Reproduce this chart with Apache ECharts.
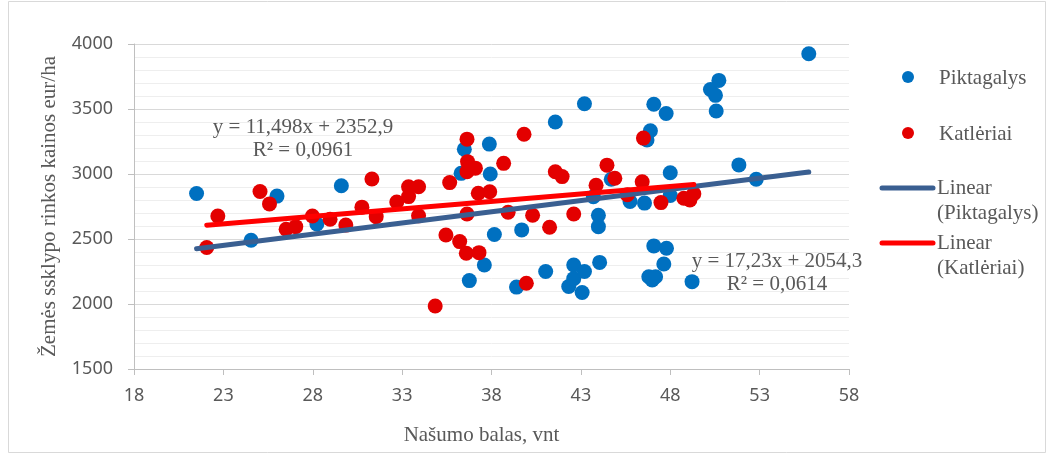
<!DOCTYPE html>
<html>
<head>
<meta charset="utf-8">
<script src="https://cdn.jsdelivr.net/npm/echarts@6/dist/echarts.min.js"></script>
<style>html,body{margin:0;padding:0;background:#fff;}#c{width:1054px;height:456px;}</style>
</head>
<body>
<div id="c"></div>
<script>
// ---- data ----
const seriesNames = ['Piktagalys', 'Katlėriai'];
const trendNames = ['Linear\n(Piktagalys)', 'Linear\n(Katlėriai)'];
const piktagalys = [
  [21.5,2850],[24.55,2490],[26.0,2830],[28.23,2615],[29.6,2910],
  [36.3,3005],[36.48,3190],[36.76,2180],[37.6,2300],[37.88,3230],[37.93,3000],[38.16,2535],
  [39.4,2130],[39.69,2570],[41.03,2250],[41.57,3400],[42.32,2135],[42.6,2300],[42.6,2195],
  [43.07,2088],[43.2,2250],[43.2,3540],[43.7,2825],[43.98,2682],[43.98,2595],[44.05,2320],
  [44.7,2960],[45.75,2788],[46.56,2776],[46.7,3262],[46.89,3333],[47.08,3537],[46.8,2210],
  [46.99,2185],[47.18,2210],[47.08,2447],[47.64,2308],[47.79,2429],[47.77,3465],[48.0,3010],
  [48.0,2835],[49.22,2172],[50.25,3650],[50.53,3605],[50.57,3485],[50.72,3720],[51.84,3070],
  [52.81,2960],[55.75,3925]
];
const katleriai = [
  [22.07,2435],[22.69,2677],[25.05,2865],[25.58,2770],[26.51,2575],[27.05,2595],[27.98,2677],
  [28.97,2652],[29.85,2607],[30.75,2745],[31.31,2962],[31.55,2672],[32.7,2785],[33.36,2902],
  [33.36,2826],[33.92,2902],[33.92,2678],[34.85,1985],[35.45,2531],[35.66,2934],[36.22,2480],
  [36.59,2390],[36.63,3268],[36.66,3095],[36.63,3018],[36.63,2692],[37.1,3045],[37.26,2852],
  [37.3,2395],[37.9,2864],[38.68,3082],[38.93,2706],[39.82,3306],[39.95,2160],[40.3,2683],
  [41.25,2590],[41.57,3017],[41.95,2980],[42.6,2692],[43.85,2914],[44.46,3068],[44.9,2967],
  [45.6,2840],[46.43,2940],[46.5,3276],[47.48,2780],[48.76,2813],[49.1,2800],[49.32,2848]
];
// trend line coefficients as printed on the chart
const trendPikt = {slope: 17.23, intercept: 2054.3, eq: 'y = 17,23x + 2054,3', r2: 'R² = 0,0614'};
const trendKatl = {slope: 11.498, intercept: 2352.9, eq: 'y = 11,498x + 2352,9', r2: 'R² = 0,0961'};
const xTicks = {min: 18, max: 58, interval: 5};
const yTicks = {min: 1500, max: 4000, interval: 500};

// ---- build ----
function trendData(pts, t) {
  const xs = pts.map(p => p[0]);
  const x0 = Math.min(...xs), x1 = Math.max(...xs);
  return [[x0, t.slope * x0 + t.intercept], [x1, t.slope * x1 + t.intercept]];
}
const BLUE = '#0070C0', RED = '#E30000', TBLUE = '#3A5F91', TRED = '#FF0000';
const TXT = '#595959';
const SERIF = '"Liberation Serif", "Times New Roman", serif';
const SANS = '"Noto Sans", "Open Sans", sans-serif';

const chart = echarts.init(document.getElementById('c'), null, {renderer: 'canvas'});
const option = {
  animation: false,
  backgroundColor: '#fff',
  grid: {left: 134, right: 205, top: 44, bottom: 87},
  xAxis: {
    type: 'value', min: xTicks.min, max: xTicks.max, interval: xTicks.interval,
    axisLine: {show: true, onZero: false, lineStyle: {color: '#bfbfbf', width: 1}},
    axisTick: {show: true, length: 6, lineStyle: {color: '#bfbfbf'}},
    axisLabel: {color: TXT, fontFamily: SANS, fontSize: 18, margin: 18, formatter: v => String(v)},
    splitLine: {show: false},
    name: 'Našumo balas, vnt', nameLocation: 'middle', nameGap: 56,
    nameTextStyle: {fontFamily: SERIF, fontSize: 21, color: TXT, padding: [0, 20, 0, 0]}
  },
  yAxis: {
    type: 'value', min: yTicks.min, max: yTicks.max, interval: yTicks.interval,
    axisLine: {show: true, lineStyle: {color: '#bfbfbf', width: 1}},
    axisTick: {show: true, length: 6, lineStyle: {color: '#bfbfbf'}},
    axisLabel: {color: TXT, fontFamily: SANS, fontSize: 18, margin: 21, formatter: v => String(v)},
    splitLine: {show: true, lineStyle: {color: '#d9d9d9', width: 1}},
    minorTick: {show: false, splitNumber: 5},
    minorSplitLine: {show: true, lineStyle: {color: '#eeeeee', width: 1}},
    name: 'Žemės ssklypo rinkos kainos eur/ha', nameLocation: 'middle', nameGap: 74,
    nameTextStyle: {fontFamily: SERIF, fontSize: 21, color: TXT}
  },
  series: [
    {name: seriesNames[0], type: 'scatter', data: piktagalys, symbolSize: 15,
     itemStyle: {color: BLUE, opacity: 1}},
    {name: seriesNames[1], type: 'scatter', data: katleriai, symbolSize: 15,
     itemStyle: {color: RED, opacity: 1}},
    {name: 'Linear (Piktagalys)', type: 'line', data: trendData(piktagalys, trendPikt),
     symbol: 'none', lineStyle: {color: TBLUE, width: 5, cap: 'round'}},
    {name: 'Linear (Katlėriai)', type: 'line', data: trendData(katleriai, trendKatl),
     symbol: 'none', lineStyle: {color: TRED, width: 5, cap: 'round'}}
  ],
  graphic: [
    {type: 'rect', shape: {x: 8.5, y: 1.5, width: 1037, height: 451},
     style: {fill: 'none', stroke: '#d9d9d9', lineWidth: 1}, silent: true, z: -10},
    // trend equations
    {type: 'text', x: 303, y: 127, style: {text: trendKatl.eq, font: '21px ' + SERIF, fill: TXT, align: 'center', verticalAlign: 'middle'}, z: 100},
    {type: 'text', x: 303, y: 150, style: {text: trendKatl.r2, font: '21px ' + SERIF, fill: TXT, align: 'center', verticalAlign: 'middle'}, z: 100},
    {type: 'text', x: 777, y: 261, style: {text: trendPikt.eq, font: '21px ' + SERIF, fill: TXT, align: 'center', verticalAlign: 'middle'}, z: 100},
    {type: 'text', x: 777, y: 284, style: {text: trendPikt.r2, font: '21px ' + SERIF, fill: TXT, align: 'center', verticalAlign: 'middle'}, z: 100},
    // legend
    {type: 'circle', shape: {cx: 908, cy: 77, r: 6}, style: {fill: BLUE}},
    {type: 'text', x: 939, y: 78, style: {text: seriesNames[0], font: '21px ' + SERIF, fill: TXT, verticalAlign: 'middle'}},
    {type: 'circle', shape: {cx: 908, cy: 133, r: 6}, style: {fill: RED}},
    {type: 'text', x: 939, y: 134, style: {text: seriesNames[1], font: '21px ' + SERIF, fill: TXT, verticalAlign: 'middle'}},
    {type: 'line', shape: {x1: 882, y1: 188, x2: 933, y2: 188}, style: {stroke: TBLUE, lineWidth: 5, lineCap: 'round'}},
    {type: 'text', x: 937, y: 176, style: {text: trendNames[0], font: '21px ' + SERIF, fill: TXT, verticalAlign: 'top', lineHeight: 25}},
    {type: 'line', shape: {x1: 882, y1: 243, x2: 933, y2: 243}, style: {stroke: TRED, lineWidth: 5, lineCap: 'round'}},
    {type: 'text', x: 937, y: 231, style: {text: trendNames[1], font: '21px ' + SERIF, fill: TXT, verticalAlign: 'top', lineHeight: 25}}
  ]
};
chart.setOption(option);
</script>
</body>
</html>
